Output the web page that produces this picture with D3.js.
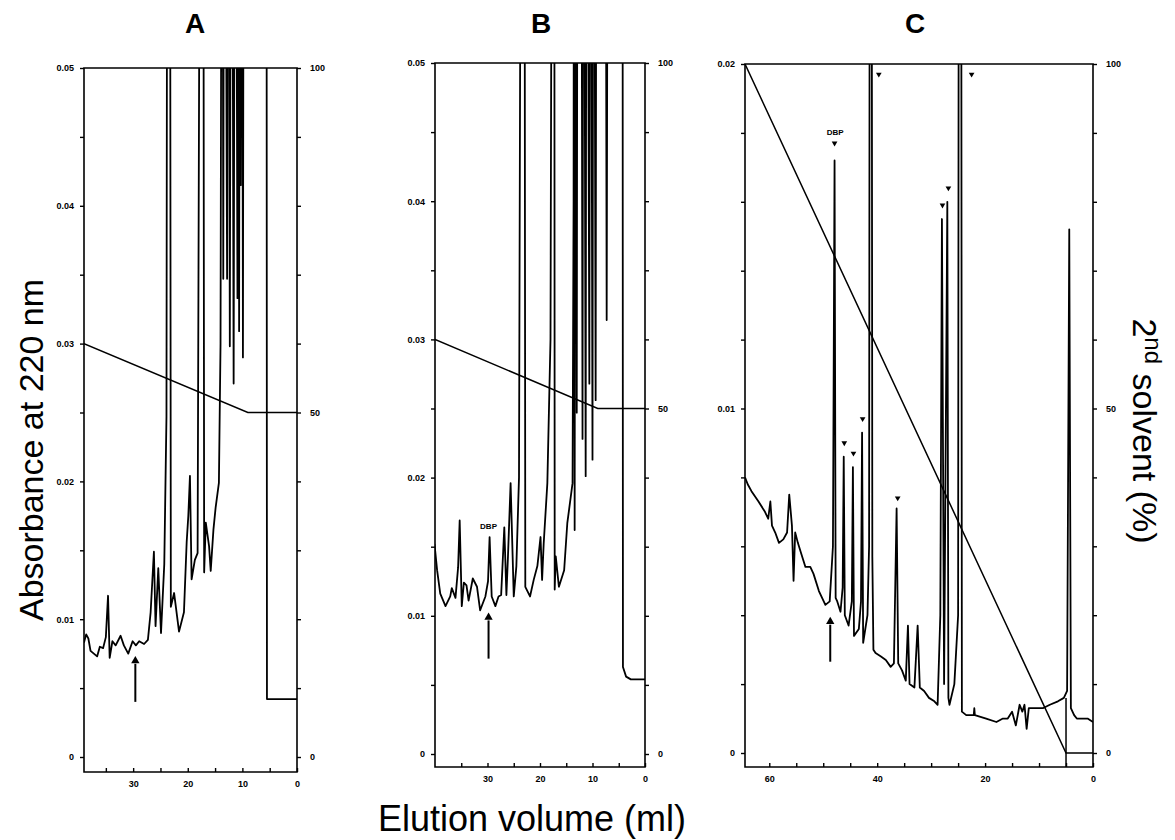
<!DOCTYPE html>
<html lang="en">
<head>
<meta charset="UTF-8">
<title>Elution profiles A, B, C</title>
<script src="https://d3js.org/d3.v7.min.js"></script>
<style>
  body { margin: 0; background: #fff; }
  svg { display: block; }
  .frame { stroke: #000; stroke-width: 1.6px; fill: none; }
  .tick line { stroke: #000; stroke-width: 1.4px; }
  .trace { fill: none; stroke: #000; stroke-width: 1.8px; stroke-linejoin: round; }
  .grad { fill: none; stroke: #000; stroke-width: 1.5px; }
  .tick text { font: bold 9px "Liberation Sans", Arial, sans-serif; fill: #000; }
  .title { font: bold 28px "Liberation Sans", Arial, sans-serif; }
  .axis-title { font: 34px "Liberation Sans", Arial, sans-serif; }
  .note { font: bold 8px "Liberation Sans", Arial, sans-serif; }
</style>
</head>
<body>
<svg id="chart" width="1175" height="840"></svg>
<script>
// ---- data (elution volume in ml, absorbance at 220 nm) ----
// values above the top of the scale are off-scale peaks, clipped at the frame
const traceA = [
  [39.0, .0083], [38.6, .0089], [38.2, .0086], [37.8, .0077], [37.2, .0075], [36.6, .0073],
  [36.1, .0080], [35.5, .0079], [35.0, .0087], [34.6, .0117], [34.3, .0072], [33.8, .0084],
  [33.2, .0081], [32.3, .0088], [31.7, .0081], [30.9, .0075], [30.1, .0084], [29.5, .0081],
  [28.9, .0084], [28.0, .0082], [27.3, .0085], [26.8, .0105], [26.2, .0149], [25.9, .0095],
  [25.4, .0137], [24.9, .0090], [24.3, .0140], [23.9, .0247], [23.7, .09], [23.3, .09],
  [23.1, .0109], [22.5, .0119], [21.6, .0091], [20.7, .0105], [20.2, .0156], [19.9, .0175],
  [19.6, .0204], [19.3, .0129], [18.7, .0143], [18.2, .0148], [17.6, .09], [17.2, .09],
  [17.0, .0134], [16.7, .0170], [16.1, .0153], [15.8, .0135], [15.3, .0165], [14.9, .0181],
  [14.3, .0199], [14.0, .030], [13.7, .09], [13.5, .0347], [13.3, .09], [12.8, .0347],
  [12.6, .09], [12.3, .0298], [12.0, .09], [11.6, .0271], [11.3, .09], [10.9, .0333],
  [10.7, .09], [10.6, .0309], [10.4, .09], [10.3, .0415], [10.1, .09], [9.9, .029],
  [9.7, .09], [5.6, .09], [5.5, .0042], [0, .0042]
];
const traceB = [
  [40.1, .0152], [39.6, .0133], [39.0, .0116], [38.0, .0107], [37.1, .0114], [36.8, .0120],
  [36.1, .0113], [35.6, .0135], [35.3, .0169], [34.9, .0107], [34.5, .0124], [34.0, .0122],
  [33.6, .0111], [32.8, .0127], [32.0, .0121], [31.4, .0104], [30.4, .0114], [29.9, .0125],
  [29.6, .0157], [29.2, .0114], [28.5, .0107], [27.9, .0114], [27.4, .0115], [26.8, .0164],
  [26.4, .0115], [26.1, .0143], [25.6, .0196], [25.0, .0114], [24.5, .0136], [24.0, .020],
  [23.5, .09], [23.0, .09], [22.8, .0121], [21.9, .0114], [21.2, .0126], [20.5, .0136],
  [19.9, .0157], [19.6, .0126], [19.3, .0152], [18.6, .0196], [18.0, .030], [17.6, .09],
  [17.3, .09], [17.2, .0119], [17.0, .0143], [16.4, .0121], [15.4, .0133], [14.8, .0167],
  [13.8, .0196], [13.6, .040], [13.5, .09], [13.4, .0162], [13.2, .09], [13.0, .0247],
  [12.8, .09], [12.2, .09], [11.9, .0228], [11.7, .09], [11.3, .0201], [11.1, .09],
  [10.6, .0268], [10.4, .09], [10.0, .0213], [9.8, .09], [9.4, .0256], [9.2, .09],
  [7.6, .09], [7.3, .0314], [7.0, .09], [4.3, .09], [4.2, .0063], [3.6, .0056],
  [2.7, .0054], [0, .0054]
];
const traceC = [
  [64.5, .0080], [64.0, .0078], [63.3, .0076], [62.0, .0073], [60.8, .0070], [60.2, .0068],
  [59.8, .0073], [59.5, .0066], [58.9, .0064], [58.2, .0061], [57.4, .0062], [56.7, .0064],
  [56.3, .0075], [55.8, .0066], [55.5, .0050], [55.2, .0064], [54.7, .0061], [54.1, .0058],
  [53.3, .0054], [52.4, .0054], [51.8, .0052], [50.8, .0047], [49.6, .0043], [48.8, .0044],
  [48.2, .0060], [47.9, .0172], [47.7, .0045], [47.4, .0044], [46.8, .0041], [46.4, .0048],
  [46.2, .0086], [46.0, .0040], [45.3, .0037], [44.7, .0044], [44.5, .0083], [44.3, .0034],
  [43.4, .0036], [43.0, .0044], [42.8, .0093], [42.6, .0032], [41.8, .0040], [41.5, .0060],
  [41.3, .04], [41.1, .04], [40.9, .0057], [40.7, .0030], [40.3, .0029], [39.3, .0028],
  [38.4, .0027], [37.5, .0025], [36.9, .0026], [36.4, .0071], [36.1, .0026], [35.4, .0024],
  [34.7, .0021], [34.3, .0037], [34.0, .0020], [33.1, .0019], [32.5, .0037], [32.1, .0019],
  [31.3, .0018], [30.4, .0016], [29.4, .0015], [28.8, .0014], [28.3, .0040], [28.0, .0155],
  [27.6, .0020], [27.0, .0160], [26.8, .0016], [26.6, .0014], [25.7, .0020], [25.0, .0040],
  [24.8, .04], [24.5, .04], [24.3, .0012], [23.5, .0011], [22.1, .0011], [22.0, .0013],
  [21.9, .0011], [19.8, .0010], [17.9, .0009], [16.7, .0010], [15.8, .0010], [15.0, .0012],
  [14.3, .0008], [13.6, .0014], [13.1, .0012], [12.7, .0014], [12.3, .0007], [11.9, .0013],
  [10.8, .0013], [9.3, .0013], [8.0, .0014], [6.5, .0015], [5.4, .0016], [4.8, .0018],
  [4.4, .0152], [4.1, .0013], [3.5, .0011], [3.0, .0010], [1.0, .0010], [0, .0009]
];

// second solvent gradient (ml, %)
const gradA = [[39, 60], [9, 50], [0, 50]];
const gradB = [[40, 60], [9, 50], [0, 50]];
const gradC = [[64.5, 100], [5, 0], [0, 0]];

// DBP position (arrow from/to absorbance) and labels
const arrowA = {ml: 29.6, from: .0040, to: .0072};
const arrowB = {ml: 29.8, from: .0069, to: .0101};
const arrowC = {ml: 48.7, from: .00265, to: .0039};
const labelsB = [{ml: 29.8, abs: .0164, text: "DBP"}];
const labelsC = [{ml: 47.8, abs: .0180, text: "DBP"}];

// peaks marked with a triangle in C
const markersC = [
  [39.7, .0197], [22.5, .0197], [47.9, .0177], [27.9, .0159], [26.8, .0164],
  [46.1, .0090], [44.4, .0087], [42.7, .0097], [36.2, .0074]
];
const injectC = 5; // ml, vertical mark in C

// ticks
const absTicksAB = d3.range(0, 11).map(i => i * 0.005);
const absTicksC = d3.range(0, 11).map(i => i * 0.002);
const pctTicks = d3.range(0, 101, 10);
const pctLabels = [0, 50, 100];
const mlTicksA = d3.range(0, 40, 5);
const mlTicksB = d3.range(0, 40, 5);
const mlTicksC = d3.range(0, 65, 5);

const svg = d3.select("#chart");

function panel(cfg) {
  const g = svg.append("g");
  const x = d3.scaleLinear().domain(cfg.xDomain).range([cfg.left, cfg.right]);
  const y = d3.scaleLinear().domain([0, cfg.yMax]).range([cfg.y0, cfg.top]);
  const yr = d3.scaleLinear().domain([0, 100]).range([cfg.y0, cfg.top]);

  const clipId = "clip" + cfg.name;
  svg.append("clipPath").attr("id", clipId).append("rect")
    .attr("x", cfg.left).attr("y", cfg.top)
    .attr("width", cfg.right - cfg.left).attr("height", cfg.bottom - cfg.top);

  // frame
  g.append("path").attr("class", "frame")
    .attr("d", `M${cfg.left},${cfg.top}V${cfg.bottom}H${cfg.right}V${cfg.top}Z`);

  // left axis
  const la = g.append("g").attr("transform", `translate(${cfg.left},0)`)
    .call(d3.axisLeft(y).tickValues(cfg.absTicks).tickSize(4).tickPadding(6)
      .tickFormat(d => {
        const k = Math.round(d * 1000);
        if (k % 10 !== 0) return "";
        return k === 0 ? "0" : (k / 1000).toFixed(2);
      }));
  la.select(".domain").remove();

  // right axis (2nd solvent %)
  const ra = g.append("g").attr("transform", `translate(${cfg.right},0)`)
    .call(d3.axisRight(yr).tickValues(pctTicks).tickSize(4).tickPadding(9)
      .tickFormat(d => pctLabels.includes(d) ? d : ""));
  ra.select(".domain").remove();

  // bottom axis
  const ba = g.append("g").attr("transform", `translate(0,${cfg.bottom})`)
    .call(d3.axisBottom(x).tickValues(cfg.mlTicks).tickSize(-4).tickPadding(9)
      .tickFormat(d => d % cfg.labelStep === 0 ? d : ""));
  ba.select(".domain").remove();

  const plot = g.append("g").attr("clip-path", `url(#${clipId})`);

  plot.append("path").datum(cfg.grad).attr("class", "grad")
    .attr("d", d3.line().x(d => x(d[0])).y(d => yr(d[1])));

  plot.append("path").datum(cfg.trace).attr("class", "trace")
    .attr("d", d3.line().x(d => x(d[0])).y(d => y(d[1])));

  // DBP arrow
  const a = cfg.arrow;
  g.append("line")
    .attr("x1", x(a.ml)).attr("x2", x(a.ml))
    .attr("y1", y(a.from)).attr("y2", y(a.to) + 6)
    .attr("stroke", "#000").attr("stroke-width", 2);
  g.append("path")
    .attr("d", d3.symbol(d3.symbolTriangle, 30)())
    .attr("transform", `translate(${x(a.ml)},${y(a.to) + 3})`);

  g.selectAll(".note").data(cfg.labels || []).join("text")
    .attr("class", "note")
    .attr("x", d => x(d.ml)).attr("y", d => y(d.abs))
    .attr("text-anchor", "middle").attr("dominant-baseline", "middle")
    .text(d => d.text);

  g.selectAll(".mk").data(cfg.markers || []).join("path")
    .attr("class", "mk")
    .attr("d", d3.symbol(d3.symbolTriangle, 14)())
    .attr("transform", d => `translate(${x(d[0])},${y(d[1])}) rotate(180)`);

  if (cfg.inject !== undefined) {
    g.append("line")
      .attr("x1", x(cfg.inject)).attr("x2", x(cfg.inject))
      .attr("y1", y(0.0016)).attr("y2", cfg.bottom)
      .attr("stroke", "#000").attr("stroke-width", 1.5);
  }

  svg.append("text").attr("class", "title")
    .attr("x", cfg.titleX).attr("y", 33).attr("text-anchor", "middle")
    .text(cfg.name);
}

panel({name: "A", left: 84, right: 297, top: 68, y0: 757, bottom: 772,
  xDomain: [39, 0], yMax: 0.05, absTicks: absTicksAB, mlTicks: mlTicksA, labelStep: 10,
  trace: traceA, grad: gradA, arrow: arrowA, titleX: 195});
panel({name: "B", left: 435, right: 645, top: 63, y0: 754, bottom: 767,
  xDomain: [40, 0], yMax: 0.05, absTicks: absTicksAB, mlTicks: mlTicksB, labelStep: 10,
  trace: traceB, grad: gradB, arrow: arrowB, labels: labelsB, titleX: 541});
panel({name: "C", left: 745, right: 1093, top: 64, y0: 753, bottom: 767,
  xDomain: [64.5, 0], yMax: 0.02, absTicks: absTicksC, mlTicks: mlTicksC, labelStep: 20,
  trace: traceC, grad: gradC, arrow: arrowC, labels: labelsC, markers: markersC,
  inject: injectC, titleX: 915});

// axis titles
svg.append("text").attr("class", "axis-title")
  .attr("transform", "translate(43,450) rotate(-90)").attr("text-anchor", "middle")
  .text("Absorbance at 220 nm");

const rt = svg.append("text").attr("class", "axis-title")
  .attr("transform", "translate(1133,431) rotate(90)").attr("text-anchor", "middle");
rt.append("tspan").text("2");
rt.append("tspan").attr("dy", -12).attr("font-size", 24).text("nd");
rt.append("tspan").attr("dy", 12).text(" solvent (%)");

svg.append("text").attr("class", "axis-title")
  .attr("x", 532).attr("y", 831).attr("text-anchor", "middle").style("font-size", "36px")
  .text("Elution volume (ml)");
</script>
</body>
</html>
